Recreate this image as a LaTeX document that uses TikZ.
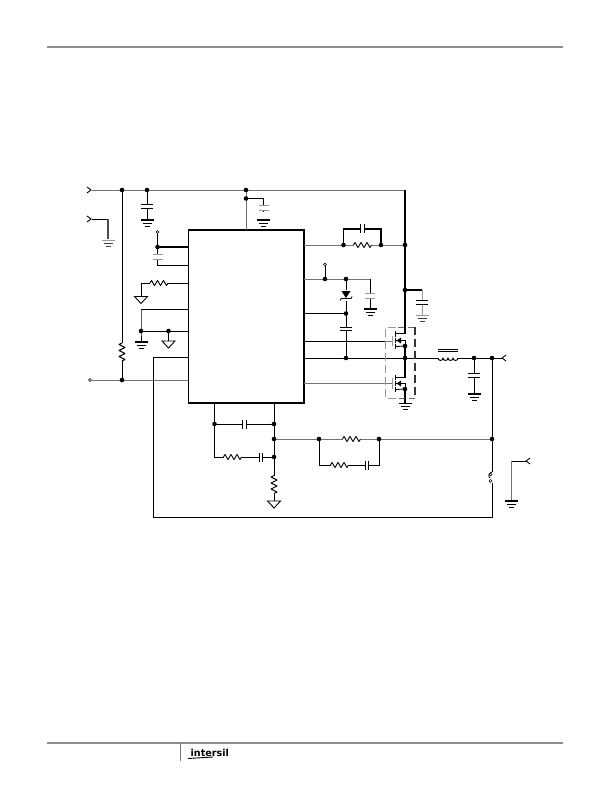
\documentclass[tikz,border=0pt]{standalone}
\usepackage{fontspec}
\setmainfont{Liberation Sans}
\newfontfamily\logofont{DejaVu Sans}
\tikzset{
  wire/.style={black,line width=0.9pt},
  heavy/.style={black,line width=1.25pt},
  hair/.style={black!55,line width=0.8pt},
  faint/.style={black!40,line width=0.8pt},
  chipbox/.style={draw=black,line width=1.6pt,fill=white,outer sep=0pt},
  jdot/.style={circle,fill=black,inner sep=0pt,minimum size=4.6pt},
  odot/.style={circle,draw=black,fill=white,line width=0.6pt,inner sep=0pt,minimum size=3pt},
  rule/.style={black!45,line width=1.4pt},
  pics/hres/.style={code={
    \fill[white] (-9,-3.5) rectangle (9,3.5);
    \draw[wire,line join=round] (-9,0)--(-7.5,-2.6)--(-4.5,2.6)--(-1.5,-2.6)--(1.5,2.6)--(4.5,-2.6)--(7.5,2.6)--(9,0);}},
  pics/vres/.style={code={
    \fill[white] (-3.5,-9) rectangle (3.5,9);
    \draw[wire,line join=round] (0,-9)--(-3,-7.5)--(3,-4.5)--(-3,-1.5)--(3,1.5)--(-3,4.5)--(3,7.5)--(0,9);}},
  pics/hcap/.style={code={
    \fill[white] (-1.7,-4) rectangle (1.7,4);
    \draw[wire] (-1.7,-4.5)--(-1.7,4.5) (1.7,-4.5)--(1.7,4.5);}},
  pics/vcap/.style={code={
    \fill[white] (-4,-1.7) rectangle (4,1.7);
    \draw[wire] (-6,-1.7)--(6,-1.7) (-6,1.7)--(6,1.7);}},
  pics/vcapfaint/.style={code={
    \fill[white] (-4,-2.4) rectangle (4,2.4);
    \draw[faint] (-5,-2.4)--(5,-2.4) (-5,2.4)--(5,2.4);}},
  pics/gnd/.style={code={
    \draw[heavy] (-6.5,0)--(6.5,0);
    \draw[wire] (-4.5,3)--(4.5,3) (-2.5,6)--(2.5,6);}},
  pics/gndfaint/.style={code={
    \draw[faint] (-6.5,0)--(6.5,0);
    \draw[wire,black!75] (-4.5,3)--(4.5,3) (-2.5,6)--(2.5,6);}},
  pics/tri/.style={code={
    \draw[wire,fill=white,line join=miter] (-6.5,0)--(6.5,0)--(0,7)--cycle;}},
  pics/inarrow/.style={code={
    \draw[wire] (-2,-3)--(2,0)--(-2,3);}},
  pics/outarrow/.style={code={
    \draw[wire] (3,-3)--(-1,0)--(3,3);}},
}
\begin{document}
\begin{tikzpicture}[x=1pt,y=-1pt]
\useasboundingbox (0,0) rectangle (611,791);
% page rules
\coordinate (hl) at (47,47); \coordinate (hr) at (563,47);
\coordinate (fl) at (47,743); \coordinate (fr) at (563,743);
\coordinate (ft) at (180,743); \coordinate (fb) at (180,761);
\draw[rule] (hl)--(hr);
\draw[rule] (fl)--(fr);
\draw[hair,line width=0.5pt] (ft)--(fb);
\node[inner sep=0pt,anchor=west,font=\logofont\fontsize{9.6}{10}\bfseries] (logo) at (190.5,752.5) {intersil};
\coordinate (sw1) at (188,758.5); \coordinate (sw2) at (213,757);
\draw[black,line width=0.9pt] (sw1)--(sw2);

% named junctions
\foreach \n/\x/\y in {
 inA/92/190, vA/122/190, vB/147/190, vC/246/190, vC2/246/198.5, rt/405/190,
 inB/92/219, inBc/108/219, vAb/122/380, inC/92/380,
 c1a/157.5/247, c1t/157.5/233.5, c1b/157.5/265.5,
 gl1/141/331, gl2/168.5/331, gl0/141/309.5,
 p1/304/245, rfa/343.5/245, rfb/381/245, rr/405/245,
 boot/325/279, bd/346/279, bc/370/279, bl/346/313.5, bm/346/358,
 dc/405/290, dcx/422/290, sw/405/358, lA/438/358, lB/458/358,
 oA/474/358, oB/492/358,
 cL/214.5/424, cR/274/424, fbn/274/439, fa/319/439, fbb/379/439, fo/492/439,
 cs/274/457, qd/405/346, qs/405/389, sw1s/492/472, sw2s/492/483}
 {\coordinate (\n) at (\x,\y);}

% IC
\node[chipbox,minimum width=115.5pt,minimum height=173pt,inner sep=0pt,anchor=north west] (ic) at (188.5,230) {};

% supply
\draw[hair] (inA)--(rt);
\draw[hair] (vC)--(246,230);
\draw[wire] (vC2)--(263.5,198.5)--(263.5,212);
\draw[wire] (vA)--(vAb);
\draw[wire] (vB)--(147,220);
\draw[hair] (inC)--(188,380);
\draw[wire] (inB)--(inBc);
\draw[heavy,black!70] (inBc)--(108,239);
% left pins
\draw[wire] (c1t)--(c1b)--(188,265.5);
\draw[heavy] (c1a)--(188,247);
\draw[wire] (141,296)--(141,283)--(188,283);
\draw[wire] (gl0)--(188,309.5);
\draw[wire] (gl0)--(gl1)--(141,342);
\draw[wire] (gl1)--(188,331);
\draw[wire] (gl2)--(168.5,341);
% feedback loop
\draw[wire] (188,357.5)--(153.5,357.5)--(153.5,517)--(492,517)--(sw2s);
\draw[wire] (oB)--(sw1s);
% right pins
\draw[hair] (p1)--(rr);
\draw[heavy] (rfa)--(343.5,229)--(381,229)--(rfb);
\draw[hair] (304,279)--(bc);
\draw[wire] (boot)--(325,266);
\draw[hair,black] (bc)--(370,309);
\draw[heavy] (304,313.5)--(bl);
\draw[wire] (bd)--(bm);
\draw[wire] (304,341)--(385,341);
\draw[hair] (385,341)--(393,341);
\draw[wire] (304,358)--(lA);
\draw[hair] (304,383.5)--(393,383.5);
\draw[heavy] (rt)--(405,334);
\draw[heavy] (dc)--(dcx);
\draw[faint] (dcx)--(422,315);
% MOSFETs
\draw[faint] (392.7,336)--(392.7,346);
\draw[wire] (395.7,331)--(395.7,337) (395.7,338)--(395.7,343) (395.7,344)--(395.7,349);
\draw[wire] (395.7,333.5)--(405,333.5);
\draw[wire] (395.7,340.5)--(405,340.5)--(qd);
\draw[wire] (395.7,346.5)--(qd);
\fill[black] (396.5,340.5)--(401,337.5)--(401,343.5)--cycle;
\draw[heavy] (qd)--(405,377.5);
\draw[faint] (392.7,378)--(392.7,389);
\draw[wire] (395.7,375)--(395.7,380) (395.7,381)--(395.7,386) (395.7,387)--(395.7,392);
\draw[wire] (395.7,377.5)--(405,377.5);
\draw[wire] (395.7,383.5)--(405,383.5)--(qs);
\draw[wire] (395.7,389.5)--(qs);
\fill[black] (396.5,383.5)--(401,380.5)--(401,386.5)--cycle;
\draw[heavy] (qs)--(405,403);
\draw[faint,dash pattern=on 8pt off 4pt] (396,327)--(385.7,327)--(385.7,398)--(396,398);
\draw[heavy,black!80,dash pattern=on 8pt off 4pt] (415,327)--(415,398);
\draw[wire,black!60,dash pattern=on 6pt off 4pt] (398,327)--(415,327);
\draw[wire,black!60,dash pattern=on 6pt off 4pt] (415,398)--(398,398);
% output
\draw[wire] (lB)--(502,358);
\draw[wire] (oA)--(474,394);
\fill[white] (438,352.5) rectangle (458,359.5);
\draw[wire] (lA) arc[start angle=180,end angle=0,radius=2.5] arc[start angle=180,end angle=0,radius=2.5] arc[start angle=180,end angle=0,radius=2.5] arc[start angle=180,end angle=0,radius=2.5];
\draw[wire] (438,349)--(458,349) (438,351.5)--(458,351.5);
% bottom network
\draw[wire] (cL|-ic.south)--(214.5,457)--(cs);
\draw[wire] (cR|-ic.south)--(274,501);
\draw[wire] (cL)--(cR);
\draw[hair] (fbn)--(fo);
\draw[wire] (fa)--(319,465)--(379,465)--(fbb);
\draw[wire] (fo)--(oB);
\coordinate (aux) at (511,461);
\draw[wire] (527,461)--(aux);
\draw[hair] (aux)--(511,501);
% switch (link) at FB
\fill[white] (487,473.5)rectangle(497,481.5);
\draw[wire] (sw1s) .. controls (488.5,473) and (488,477) .. (490,478);
\node[odot] (s1) at (490.5,474.5) {};
\node[odot] (s2) at (490.5,481) {};

% symbols
\pic at (147,206.5) {vcap};
\pic at (147,220) {gnd};
\pic at (263.5,208) {vcapfaint};
\pic at (263.5,220) {gnd};
\pic at (108,240) {gndfaint};
\pic at (157.5,257) {vcapfaint};
\pic at (159,283) {hres};
\pic at (141,296.5) {tri};
\pic at (141,342) {gnd};
\pic at (168.5,341) {tri};
\pic at (122,352) {vres};
\pic at (362.5,245) {hres};
\pic at (362.5,229) {hcap};
\pic at (370,295.5) {vcapfaint};
\pic at (370,309) {gnd};
\pic at (346,329) {vcap};
\pic at (422,302.5) {vcap};
\pic at (422,315) {gndfaint};
\pic at (405,403.5) {gnd};
\pic at (474,375.5) {vcap};
\pic at (474,394) {gnd};
\pic at (244.5,424) {hcap};
\pic at (232.5,457) {hres};
\pic at (261,457) {hcap};
\pic at (274,484.5) {vres};
\pic at (274,501) {tri};
\pic at (351.5,439) {hres};
\pic at (339.5,465) {hres};
\pic at (367,465) {hcap};
\pic at (511,501) {gnd};
% diode
\fill[white] (341,290) rectangle (351,301);
\fill[black] (341.5,291)--(350.5,291)--(346,298)--cycle;
\draw[wire] (341,298.5)--(351,298.5) (341,298.5)--(340,300.5) (351,298.5)--(352,296.5);
% terminals
\pic at (89,190) {inarrow};
\pic at (89,219) {inarrow};
\pic at (503,358) {outarrow};
\pic at (527,461) {outarrow};
\node[odot] (tC) at (90,380) {};
\node[odot] (tc1) at (157.5,232) {};
\node[odot] (tboot) at (325,264.5) {};
% dots
\foreach \n in {vA,vB,vC,vC2,vAb,c1a,gl1,gl2,rfa,rfb,rr,boot,bd,bl,bm,dc,sw,qd,qs,oA,oB,cL,cR,fbn,cs,fa,fbb,fo}
  \node[jdot] at (\n) {};
\end{tikzpicture}
\end{document}
